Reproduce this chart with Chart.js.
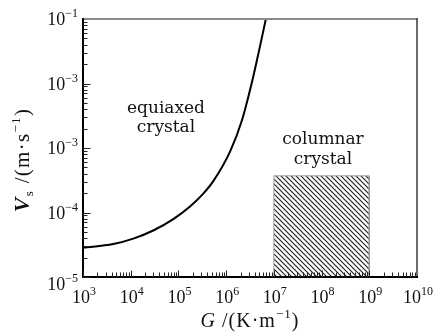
<!DOCTYPE html>
<html>
<head>
<meta charset="utf-8">
<script src="https://cdn.jsdelivr.net/npm/chart.js@4/dist/chart.umd.min.js"></script>
<style>
  html, body { margin: 0; padding: 0; background: #fff; }
  #wrap { width: 435px; height: 332px; position: relative; }
</style>
</head>
<body>
<div id="wrap"><canvas id="chart"></canvas></div>
<script>
// boundary curve between equiaxed / columnar growth
const curveG = [1000, 4300, 11300, 29700, 78000, 175000, 332000, 538000, 1.2e6, 2.12e6, 3.44e6, 5.13e6, 6.8e6];
const curveV = [2.84e-5, 3.24e-5, 3.94e-5, 5.26e-5, 7.9e-5, 1.24e-4, 1.96e-4, 3.06e-4, 8.7e-4, 2.62e-3, 1.02e-2, 3.8e-2, 0.1];

// hatched columnar region
const boxG = [1e7, 1e7, 1e9, 1e9];
const boxV = [1e-5, 3.7e-4, 3.7e-4, 1e-5];

// tick labels (y labels copied as printed, including the repeated 10^-3)
const xTickExps = ['3', '4', '5', '6', '7', '8', '9', '10'];
const yTickValues = [1e-1, 1e-2, 1e-3, 1e-4, 1e-5];
const yTickExps = ['\u22121', '\u22123', '\u22123', '\u22124', '\u22125'];

const SERIF = '"Liberation Serif", "Times New Roman", serif';
const LABEL_SERIF = '"DejaVu Serif", "Liberation Serif", serif';

// diagonal hatch pattern (top-left to bottom-right)
function makeHatch() {
  const p = 5;
  const c = document.createElement('canvas');
  c.width = p; c.height = p;
  const g = c.getContext('2d');
  g.strokeStyle = '#222';
  g.lineWidth = 1.15;
  g.beginPath();
  g.moveTo(-1, -1); g.lineTo(p + 1, p + 1);
  g.moveTo(-1, p - 1); g.lineTo(1, p + 1);
  g.moveTo(p - 1, -1); g.lineTo(p + 1, 1);
  g.stroke();
  return g.createPattern(c, 'repeat');
}

// draw a run of text pieces: {t, font, dy}
function drawRich(ctx, parts, x, y, align, spacing) {
  ctx.letterSpacing = (spacing || 0) + 'px';
  let w = 0;
  parts.forEach(p => { ctx.font = p.font; w += ctx.measureText(p.t).width; });
  let cx = align === 'right' ? x - w : align === 'center' ? x - w / 2 : x;
  ctx.textAlign = 'left';
  ctx.textBaseline = 'alphabetic';
  parts.forEach(p => {
    ctx.font = p.font;
    ctx.fillText(p.t, cx, y + (p.dy || 0));
    cx += ctx.measureText(p.t).width;
  });
  ctx.letterSpacing = '0px';
}

const axisDecor = {
  id: 'axisDecor',
  afterDraw(chart) {
    const ctx = chart.ctx;
    const xs = chart.scales.x, ys = chart.scales.y;
    const a = chart.chartArea;
    ctx.save();

    // frame
    ctx.lineCap = 'square';
    ctx.strokeStyle = '#8c8c8c'; ctx.lineWidth = 2;
    ctx.beginPath(); ctx.moveTo(a.left, a.top); ctx.lineTo(a.right, a.top); ctx.stroke();
    ctx.strokeStyle = '#3a3a3a'; ctx.lineWidth = 1.5;
    ctx.beginPath(); ctx.moveTo(a.right, a.top); ctx.lineTo(a.right, a.bottom); ctx.stroke();
    ctx.strokeStyle = '#000'; ctx.lineWidth = 2;
    ctx.beginPath(); ctx.moveTo(a.left, a.top); ctx.lineTo(a.left, a.bottom); ctx.lineTo(a.right, a.bottom); ctx.stroke();

    // inward ticks
    ctx.strokeStyle = '#222'; ctx.lineWidth = 1;
    ctx.beginPath();
    for (let n = 3; n < 10; n++) {
      for (let k = 1; k <= 9; k++) {
        const px = Math.round(xs.getPixelForValue(k * Math.pow(10, n))) + 0.5;
        const len = k === 1 ? 6 : 4;
        ctx.moveTo(px, a.bottom); ctx.lineTo(px, a.bottom - len);
      }
    }
    for (let n = -5; n < -1; n++) {
      for (let k = 1; k <= 9; k++) {
        const py = Math.round(ys.getPixelForValue(k * Math.pow(10, n))) + 0.5;
        const len = k === 1 ? 7 : 4;
        ctx.moveTo(a.left, py); ctx.lineTo(a.left + len, py);
      }
    }
    ctx.stroke();

    ctx.fillStyle = '#111';
    const big = '18px ' + SERIF, small = '12px ' + SERIF;

    // x tick labels
    xTickExps.forEach(e => {
      const px = xs.getPixelForValue(Math.pow(10, Number(e)));
      drawRich(ctx, [{ t: '10', font: big }, { t: e, font: small, dy: -8 }], px + 1, 303, 'center');
    });

    // y tick labels
    yTickValues.forEach((v, i) => {
      const py = ys.getPixelForValue(v);
      const base = i === yTickValues.length - 1 ? py + 13 : py + 6;
      drawRich(ctx, [{ t: '10', font: big }, { t: yTickExps[i], font: small, dy: -8 }], 78, base, 'right');
    });

    // x title
    drawRich(ctx, [
      { t: 'G', font: 'italic 20px ' + SERIF },
      { t: ' /(K\u00b7m', font: '20px ' + SERIF },
      { t: '\u22121', font: '13px ' + SERIF, dy: -9 },
      { t: ')', font: '20px ' + SERIF }
    ], (a.left + a.right) / 2, 327, 'center', 1);

    // y title (rotated)
    ctx.save();
    ctx.translate(29, 160);
    ctx.rotate(-Math.PI / 2);
    drawRich(ctx, [
      { t: 'V', font: 'italic bold 22px ' + SERIF },
      { t: 's', font: '13px ' + SERIF, dy: 4 },
      { t: ' /(m\u00b7s', font: '21px ' + SERIF },
      { t: '\u22121', font: '13px ' + SERIF, dy: -9 },
      { t: ')', font: '21px ' + SERIF }
    ], 0, 0, 'center', 1.3);
    ctx.restore();

    // region labels
    ctx.font = '17px ' + LABEL_SERIF;
    ctx.textAlign = 'center';
    ctx.textBaseline = 'alphabetic';
    ctx.fillText('equiaxed', 166, 113);
    ctx.fillText('crystal', 166, 132);
    ctx.fillText('columnar', 323, 144);
    ctx.fillText('crystal', 323, 164);

    ctx.restore();
  }
};

new Chart(document.getElementById('chart'), {
  type: 'line',
  data: {
    datasets: [
      {
        data: curveG.map((g, i) => ({ x: g, y: curveV[i] })),
        borderColor: '#000',
        borderWidth: 2,
        pointRadius: 0,
        cubicInterpolationMode: 'monotone',
        fill: false
      },
      {
        data: boxG.map((g, i) => ({ x: g, y: boxV[i] })),
        borderColor: '#9a9a9a',
        borderWidth: 1,
        pointRadius: 0,
        tension: 0,
        fill: 'start',
        backgroundColor: makeHatch()
      }
    ]
  },
  options: {
    responsive: true,
    maintainAspectRatio: false,
    animation: false,
    devicePixelRatio: 1,
    layout: { padding: { top: 19, right: 18, left: 0, bottom: 0 } },
    plugins: { legend: { display: false }, tooltip: { enabled: false } },
    scales: {
      x: {
        type: 'logarithmic', min: 1e3, max: 1e10,
        ticks: { display: false },
        grid: { display: false, drawTicks: false },
        border: { display: false },
        afterFit: s => { s.height = 55; }
      },
      y: {
        type: 'logarithmic', min: 1e-5, max: 1e-1,
        ticks: { display: false },
        grid: { display: false, drawTicks: false },
        border: { display: false },
        afterFit: s => { s.width = 83; }
      }
    }
  },
  plugins: [axisDecor]
});
</script>
</body>
</html>
